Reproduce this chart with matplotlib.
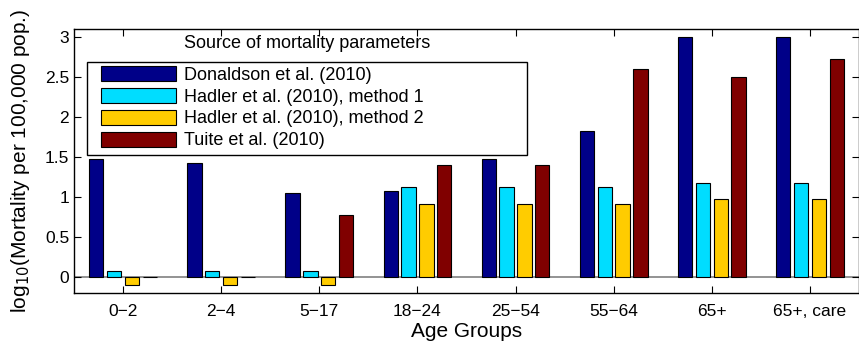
import numpy as np
import matplotlib.pyplot as plt
from matplotlib.patches import Rectangle

plt.rcParams["font.family"] = ["Liberation Sans", "DejaVu Sans"]

groups = ['0\u22122', '2\u22124', '5\u221217', '18\u221224', '25\u221254', '55\u221264', '65+', '65+, care']
donaldson = [1.48, 1.43, 1.045, 1.08, 1.48, 1.82, 3.0, 3.0]
hadler1 = [0.08, 0.08, 0.08, 1.12, 1.12, 1.12, 1.17, 1.17]
hadler2 = [-0.1, -0.1, -0.1, 0.91, 0.91, 0.91, 0.975, 0.975]
tuite = [0.0, 0.0, 0.78, 1.40, 1.40, 2.60, 2.50, 2.73]

series = [donaldson, hadler1, hadler2, tuite]
labels = ['Donaldson et al. (2010)', 'Hadler et al. (2010), method 1',
          'Hadler et al. (2010), method 2', 'Tuite et al. (2010)']
colors = ['#000088', '#00DDFF', '#FFCC00', '#800000']

W, H = 859, 343
fig = plt.figure(figsize=(W/100, H/100), dpi=100)
ax = fig.add_axes([74/W, 1-293/H, 785/W, 264/H])

def ax_xy(px, py):
    # figure pixel -> axes fraction
    return (px-74)/785, 1-(py-29)/264

x = np.arange(1, len(groups)+1)
step = 0.182
w = step*0.8
handles = []
for k, (vals, col, lab) in enumerate(zip(series, colors, labels)):
    h = ax.bar(x + (k-1.5)*step, vals, width=w, color=col, edgecolor='black',
               linewidth=0.8, label=lab, zorder=2)
    handles.append(h)
ax.axhline(0, color='#808080', linewidth=1.2, zorder=1)

ax.set_xlim(0.5, 8.5)
ax.set_ylim(-0.2, 3.1)
ax.set_xticks(x)
ax.set_xticklabels(groups)
ax.set_yticks([0, 0.5, 1, 1.5, 2, 2.5, 3])
ax.set_yticklabels(['0', '0.5', '1', '1.5', '2', '2.5', '3'])
ax.tick_params(direction='in', top=True, right=True, length=5, labelsize=12.5, width=0.8)
ax.tick_params(axis='x', pad=8)
for s in ax.spines.values():
    s.set_linewidth(1.0)

ax.set_xlabel('Age Groups', fontsize=15, labelpad=2)
ax.set_ylabel(r'log$_{10}$(Mortality per 100,000 pop.)', fontsize=15, labelpad=9)

# legend box drawn by hand (MATLAB style wide frame)
x0, y1 = ax_xy(87, 62)
x1, y0 = ax_xy(527, 155)
ax.add_patch(Rectangle((x0, y0), x1-x0, y1-y0, transform=ax.transAxes, fill=True,
                       facecolor='white', edgecolor='black', linewidth=1.0, zorder=5))
lx, ly = ax_xy(101, 66)
leg = ax.legend(handles=handles, loc='upper left', bbox_to_anchor=(lx, ly),
                fontsize=13, frameon=False, handlelength=4.15, handleheight=0.9,
                handletextpad=0.45, labelspacing=0.23, borderpad=0, borderaxespad=0)
leg.set_zorder(6)
tx, ty = ax_xy(307, 43)
ax.text(tx, ty, 'Source of mortality parameters', transform=ax.transAxes,
        ha='center', va='center', fontsize=13)

fig.savefig('out.png', dpi=100)
